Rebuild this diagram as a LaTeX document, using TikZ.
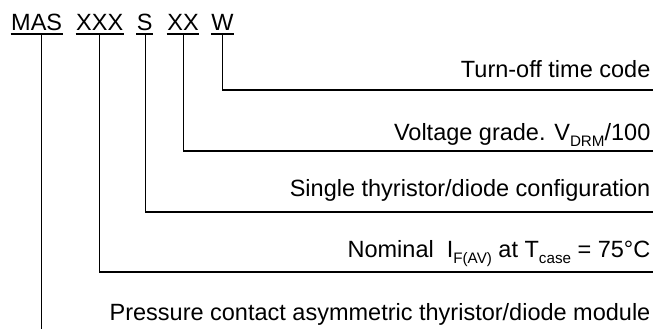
\documentclass[tikz,border=0pt]{standalone}
\usepackage{fontspec}
\setmainfont{Liberation Sans}
\newcommand{\lowtxt}[1]{\raisebox{-3.3pt}{\fontsize{7.6}{8}\selectfont #1}}

\begin{document}
\begin{tikzpicture}[x=0.5pt, y=-0.5pt, line width=0.65pt,
    code/.style={inner sep=0, text depth=1.3pt, anchor=base, font=\fontsize{11.75}{13}\selectfont},
    label/.style={inner sep=0, anchor=base east, font=\fontsize{11.75}{13}\selectfont}]
    \useasboundingbox (0,0) rectangle (656,329);
    % Part number
    \node[code] (mas) at (36.7,30.7) {MAS};
    \node[code] (xxx) at (99.7,30.7) {XXX};
    \node[code] (s) at (144.7,30.7) {S};
    \node[code] (xx) at (183,30.7) {XX};
    \node[code] (w) at (222.5,30.7) {W};
    \foreach \n in {mas, xxx, s, xx, w}
        \draw (\n.south west) -- (\n.south east);
    % Descriptions
    \node[label] (tw) at (651,77.3) {Turn-off time code};
    \node[label] (tv) at (651,140) {Voltage grade. V\lowtxt{DRM}/100};
    \node[label] (ts) at (651,196.7) {Single thyristor/diode configuration};
    \node[label] (tn) at (651,257) {Nominal\ \ I\lowtxt{F(AV)} at T\lowtxt{case} = 75°C};
    \node[label] (tp) at (651,320) {Pressure contact asymmetric thyristor/diode module};
    % Line ends
    \coordinate (ew) at (652.7,90);
    \coordinate (exx) at (652.7,151);
    \coordinate (es) at (652.7,212);
    \coordinate (exxx) at (652.7,272);
    \coordinate (emas) at (41.7,329);
    % Leaders
    \draw (w.south) |- (ew);
    \draw ([xshift=0.4pt]xx.south) |- (exx);
    \draw ([xshift=0.5pt]s.south) |- (es);
    \draw (xxx.south) |- (exxx);
    \draw (emas |- mas.south) -- (emas);
\end{tikzpicture}
\end{document}
